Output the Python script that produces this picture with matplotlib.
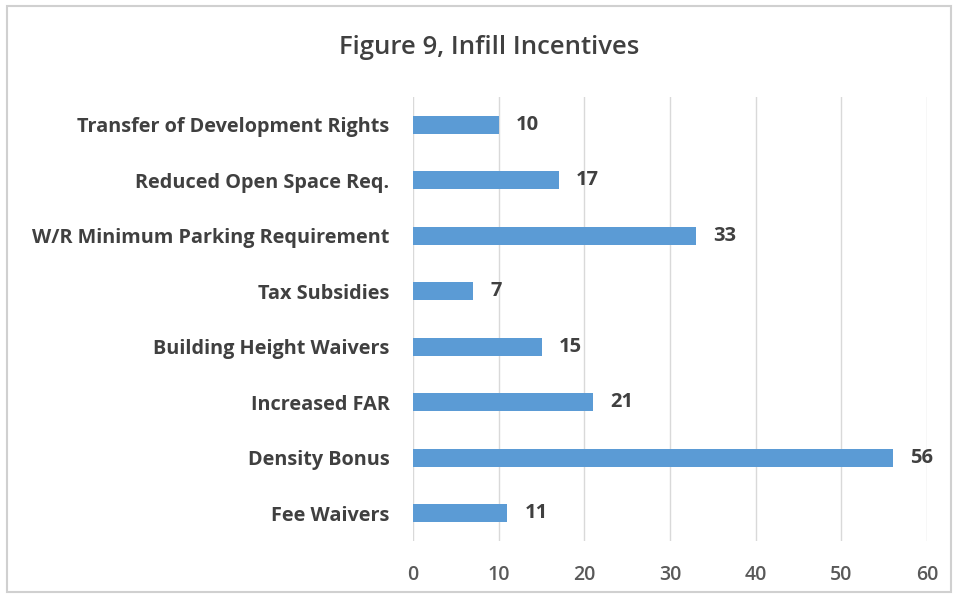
import matplotlib
matplotlib.use("Agg")
import matplotlib.pyplot as plt
from matplotlib.patches import Rectangle

categories = ["Fee Waivers", "Density Bonus", "Increased FAR", "Building Height Waivers",
              "Tax Subsidies", "W/R Minimum Parking Requirement", "Reduced Open Space Req.",
              "Transfer of Development Rights"]
values = [11, 56, 21, 15, 7, 33, 17, 10]
xticks = [0, 10, 20, 30, 40, 50, 60]
title = "Figure 9, Infill Incentives"

plt.rcParams['font.family'] = ['Open Sans', 'DejaVu Sans']
W, H = 958, 599
fig = plt.figure(figsize=(W/100, H/100), dpi=100)
fig.patches.append(Rectangle((7/W, 1-592/H), (951-7)/W, (592-6)/H, transform=fig.transFigure,
                             fill=False, edgecolor='#d0d0d0', linewidth=1.5))
ax = fig.add_axes([413/W, 1-541/H, (927-413)/W, (541-97)/H])
y = list(range(len(categories)))
ax.barh(y, values, height=0.33, color='#5b9bd5', zorder=3)
for yi, v in zip(y, values):
    ax.text(v + 2, yi, str(v), va='center', ha='left', fontsize=14.5, fontweight='bold', color='#404040')
ax.set_xlim(0, 60)
ax.set_ylim(-0.5, len(categories) - 0.5)
ax.set_yticks(y)
ax.set_yticklabels(categories, fontsize=14.3, fontweight='bold', color='#404040')
ax.set_xticks(xticks)
ax.set_xticklabels([str(t) for t in xticks], fontsize=14, fontweight='semibold', color='#595959')
ax.tick_params(axis='both', length=0)
ax.tick_params(axis='y', pad=17)
ax.tick_params(axis='x', pad=17)
ax.grid(axis='x', color='#d9d9d9', linewidth=1, zorder=0)
for s in ax.spines.values():
    s.set_visible(False)
fig.text(489/W, 1-47/H, title, ha='center', va='center', fontsize=18.5, fontweight='semibold', color='#404040')
fig.savefig("out.png", dpi=100)
